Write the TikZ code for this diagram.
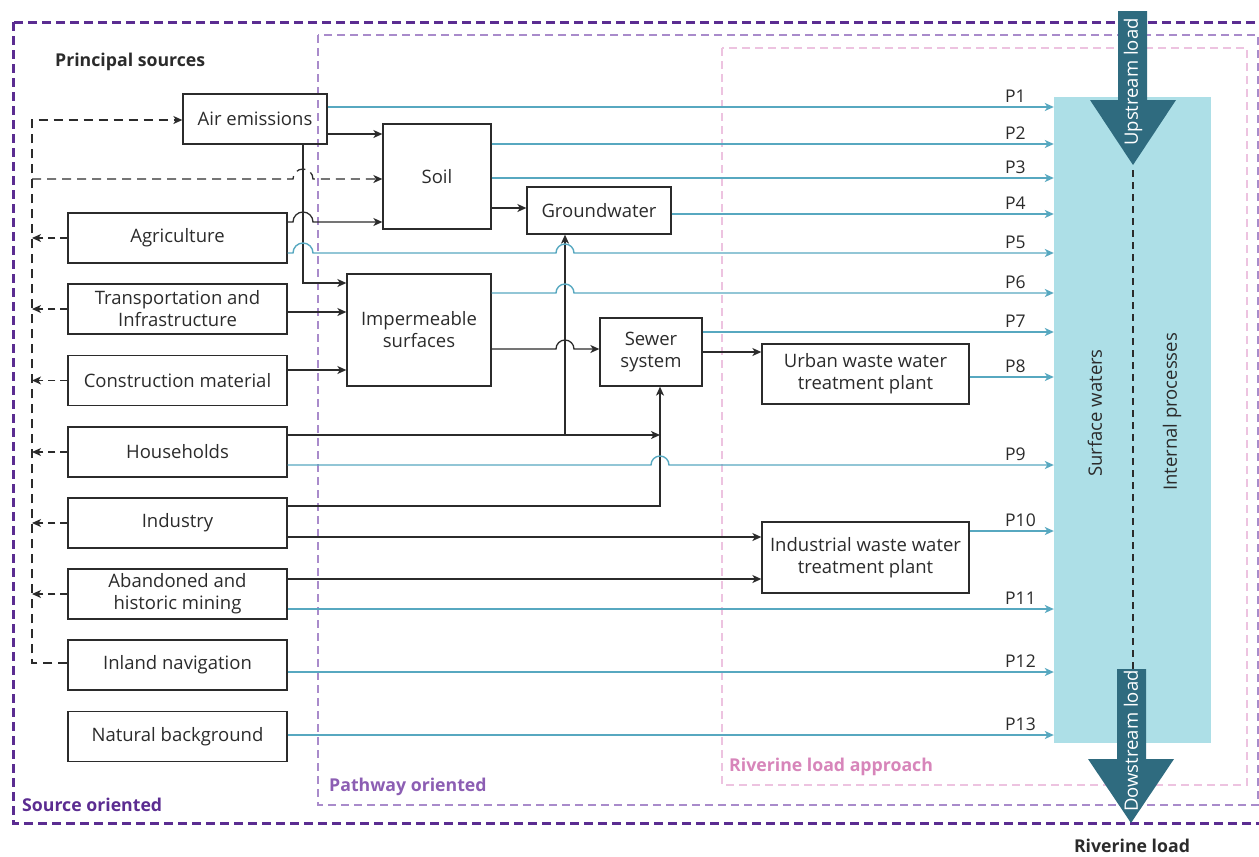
\documentclass[tikz,border=0pt]{standalone}
\usepackage{fontspec}
\setmainfont{Open Sans}
\usetikzlibrary{arrows.meta}

\definecolor{srcpurple}{HTML}{5B2C91}
\definecolor{pathpurple}{HTML}{A98BCB}
\definecolor{pathtext}{HTML}{8C5EB3}
\definecolor{rivpink}{HTML}{EDC3E0}
\definecolor{rivtext}{HTML}{D785BA}
\definecolor{pblue}{HTML}{57A8C0}
\definecolor{swfill}{HTML}{ADDFE7}
\definecolor{loadteal}{HTML}{2F6B7F}
\definecolor{linegray}{HTML}{2B2B2B}

\tikzset{
  box/.style={draw=linegray, line width=1.3pt, inner sep=0pt, align=center,
    font=\fontsize{18.5}{22}\selectfont, text=linegray},
  flow/.style={draw=linegray, line width=1.3pt,
    -{Stealth[length=9pt,width=8pt,inset=2.5pt]}},
  pline/.style={draw=pblue, line width=1.4pt,
    -{Stealth[length=9pt,width=8pt,inset=2.5pt]}},
  loopline/.style={draw=linegray, line width=1.3pt, dash pattern=on 9pt off 6pt},
  plabel/.style={anchor=south west, inner sep=1pt, text=linegray,
    font=\fontsize{17.5}{20}\selectfont},
  tag/.style={anchor=west, inner sep=0pt, font=\fontsize{17.7}{20}\selectfont\bfseries},
  rottext/.style={rotate=90, font=\fontsize{18.5}{22}\selectfont},
}

\begin{document}
\begin{tikzpicture}[x=1pt, y=-1pt]
    \useasboundingbox (0,0) rectangle (1259,857);

    %% approach frames
    \draw[srcpurple, line width=3pt, dash pattern=on 9pt off 5pt]
        (13,22) rectangle (1268,823);
    \draw[pathpurple, line width=2.6pt, dash pattern=on 8pt off 5pt]
        (318,35) rectangle (1258,805);
    \draw[rivpink, line width=2pt, dash pattern=on 8pt off 5pt]
        (722,48) rectangle (1247,785);

    \node[tag, text=linegray] (lblprinc) at (55,62) {Principal sources};
    \node[tag, text=srcpurple] (lblsrc) at (22,805) {Source oriented};
    \node[tag, text=pathtext] (lblpath) at (329,787) {Pathway oriented};
    \node[tag, text=rivtext] (lblriv) at (729,767) {Riverine load approach};
    \node[tag, anchor=center, text=linegray] (lblload) at (1132,846) {Riverine load};

    %% surface waters
    \node[fill=swfill, inner sep=0pt, minimum width=157pt, minimum height=646pt]
        (sw) at (1132.5,420) {};
    \node[rottext, text=linegray] (swtext) at (1095,413) {Surface waters};
    \node[rottext, text=linegray] (inttext) at (1172,412) {Internal processes};
    \draw[linegray, line width=1.3pt, dash pattern=on 7pt off 5pt] (1133,170) -- (1133,669);

    %% upstream and downstream load
    \fill[loadteal] (1118,11) -- (1147,11) -- (1147,100) -- (1176,100) -- (1133,165)
        -- (1090,100) -- (1118,100) -- cycle;
    \node[rottext, text=white] (uptext) at (1133,82) {Upstream load};
    \fill[loadteal] (1117,669) -- (1146,669) -- (1146,759) -- (1174,759) -- (1131,823)
        -- (1088,759) -- (1117,759) -- cycle;
    \node[rottext, text=white] (downtext) at (1131,741) {Dowstream load};

    %% principal sources
    \node[box, minimum width=144pt, minimum height=50pt] (air) at (255,119) {Air emissions};
    \foreach \nm/\yc/\txt in {agri/238/Agriculture,
                              trans/309/{Transportation and\\Infrastructure},
                              constr/380.5/Construction material,
                              house/452/Households,
                              indus/523/Industry,
                              mining/594/{Abandoned and\\historic mining},
                              inland/665/Inland navigation,
                              natural/736.5/Natural background}
        \node[box, minimum width=219pt, minimum height=50pt] (\nm) at (177.5,\yc) {\txt};

    %% pathways
    \node[box, minimum width=108pt, minimum height=105pt] (soil) at (437,176.5) {Soil};
    \node[box, minimum width=144pt, minimum height=47pt] (ground) at (599,210.5) {Groundwater};
    \node[box, minimum width=144pt, minimum height=112pt] (imperm) at (419,330) {Impermeable\\surfaces};
    \node[box, minimum width=102pt, minimum height=68pt] (sewer) at (651,352) {Sewer\\system};
    \node[box, minimum width=207pt, minimum height=60pt] (uwwtp) at (865.5,374) {Urban waste water\\treatment plant};
    \node[box, minimum width=207pt, minimum height=71pt] (iwwtp) at (865.5,557.5) {Industrial waste water\\treatment plant};

    %% dashed feedback loop
    \draw[loopline, -{Stealth[length=9pt,width=8pt,inset=2.5pt]}]
        (inland.west |- 0,663) -| (32,120) -- (air.west |- 0,120);
    \draw[loopline, -{Stealth[length=9pt,width=8pt,inset=2.5pt]}]
        (32,179) -- (293,179) arc[start angle=180, end angle=0, radius=10pt]
        -- (soil.west |- 0,179);
    \foreach \nm in {agri,trans,constr,house,indus,mining}
        \draw[loopline, dash pattern=on 7pt off 5pt,
              -{Stealth[length=9pt,width=8pt,inset=2.5pt]}]
            (\nm.west) -- (\nm.west -| 32,0);

    %% flows between boxes
    \draw[flow] (air.east |- 0,134) -- (soil.west |- 0,134);
    \draw[flow] (air.south -| 303,0) -- (303,283) -- (imperm.west |- 0,283);
    \draw[flow] (agri.east |- 0,222) -- (293,222) arc[start angle=180, end angle=0, radius=10pt]
        -- (soil.west |- 0,222);
    \draw[flow] (soil.east |- 0,208) -- (ground.west |- 0,208);
    \draw[flow] (trans.east |- 0,312) -- (imperm.west |- 0,312);
    \draw[flow] (constr.east |- 0,370) -- (imperm.west |- 0,370);
    \draw[flow] (imperm.east |- 0,349) -- (556,349) arc[start angle=180, end angle=0, radius=9pt]
        -- (sewer.west |- 0,349);
    \draw[flow] (house.east |- 0,435) -- (660,435);
    \draw[flow] (565,435) -- (ground.south -| 565,0);
    \draw[flow] (indus.east |- 0,506) -| (sewer.south -| 660,0);
    \draw[flow] (indus.east |- 0,537) -- (iwwtp.west |- 0,537);
    \draw[flow] (mining.east |- 0,579) -- (iwwtp.west |- 0,579);
    \draw[flow] (sewer.east |- 0,352) -- (uwwtp.west |- 0,352);

    %% pathways into surface waters
    \draw[pline] (air.east |- 0,107) -- (sw.west |- 0,107);
    \draw[pline] (soil.east |- 0,144) -- (sw.west |- 0,144);
    \draw[pline] (soil.east |- 0,178) -- (sw.west |- 0,178);
    \draw[pline] (ground.east |- 0,214) -- (sw.west |- 0,214);
    \draw[pline] (agri.east |- 0,253) -- (293,253) arc[start angle=180, end angle=0, radius=10pt]
        -- (556,253) arc[start angle=180, end angle=0, radius=9pt] -- (sw.west |- 0,253);
    \draw[pline] (imperm.east |- 0,293) -- (556,293) arc[start angle=180, end angle=0, radius=9pt]
        -- (sw.west |- 0,293);
    \draw[pline] (sewer.east |- 0,332) -- (sw.west |- 0,332);
    \draw[pline] (uwwtp.east |- 0,377) -- (sw.west |- 0,377);
    \draw[pline] (house.east |- 0,465) -- (651,465) arc[start angle=180, end angle=0, radius=9pt]
        -- (sw.west |- 0,465);
    \draw[pline] (iwwtp.east |- 0,531) -- (sw.west |- 0,531);
    \draw[pline] (mining.east |- 0,609) -- (sw.west |- 0,609);
    \draw[pline] (inland.east |- 0,672) -- (sw.west |- 0,672);
    \draw[pline] (natural.east |- 0,735) -- (sw.west |- 0,735);
    \foreach \i/\y in {1/107,2/144,3/178,4/214,5/253,6/293,7/332,
                       8/377,9/465,10/531,11/609,12/672,13/735}
        \node[plabel] (p\i) at (1004,\y-3) {P\i};
\end{tikzpicture}
\end{document}
